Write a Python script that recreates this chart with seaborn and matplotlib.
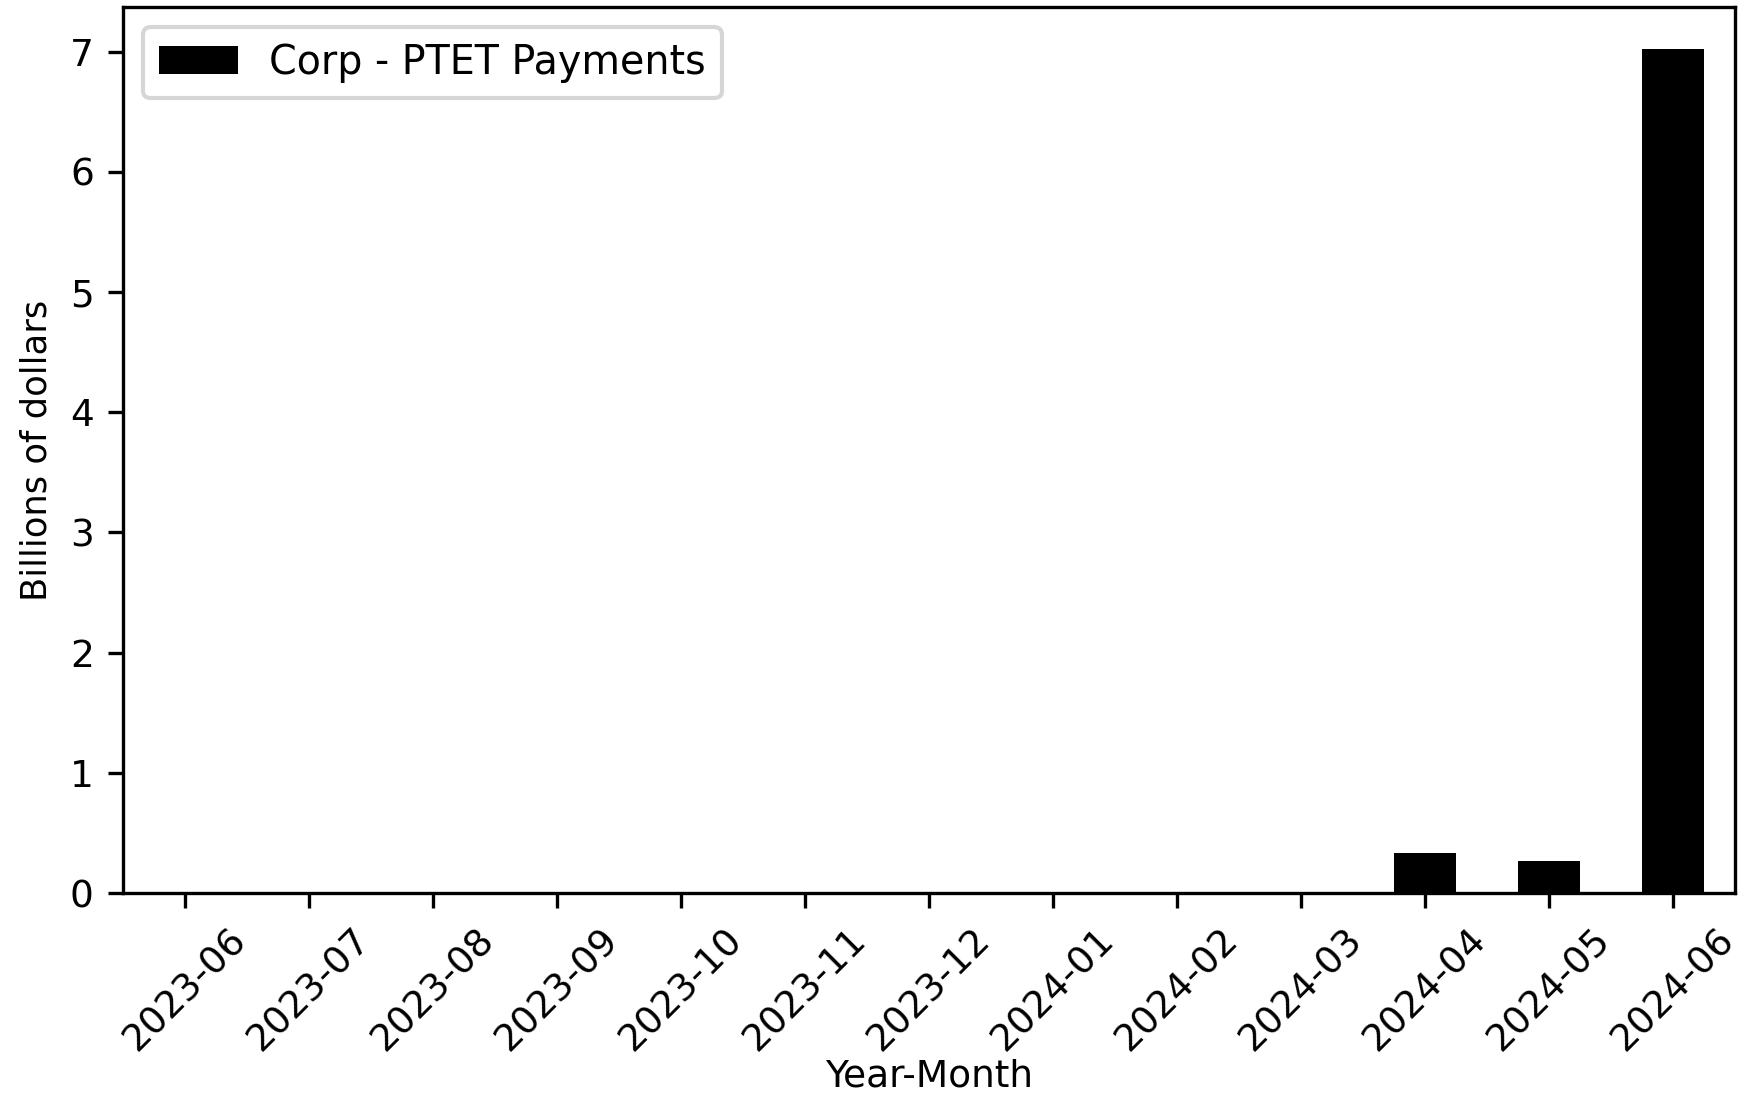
import matplotlib
matplotlib.use("Agg")
import matplotlib.pyplot as plt
import pandas as pd
import seaborn as sns

# Monthly PTET payments, billions of dollars
MONTHS = [
    "2023-06", "2023-07", "2023-08", "2023-09", "2023-10", "2023-11", "2023-12",
    "2024-01", "2024-02", "2024-03", "2024-04", "2024-05", "2024-06",
]
PAYMENTS = [0, 0, 0, 0, 0, 0, 0, 0, 0, 0, 0.335, 0.27, 7.02]
SERIES_NAME = "Corp - PTET Payments"

df = pd.DataFrame({"month": MONTHS, "value": PAYMENTS, "series": SERIES_NAME})

plt.rcParams["font.family"] = ["DejaVu Sans"]
plt.rcParams["font.size"] = 9

fig, ax = plt.subplots(figsize=(1752 / 300, 1096 / 300), dpi=300)
fig.subplots_adjust(left=0.0702, right=0.9903, bottom=0.1852, top=0.9936)

sns.barplot(
    data=df,
    x="month",
    y="value",
    hue="series",
    palette={SERIES_NAME: "black"},
    width=0.5,
    saturation=1,
    ax=ax,
)

ax.set_xlim(-0.5, len(MONTHS) - 0.5)
ax.set_ylim(0, max(PAYMENTS) * 1.05)
ax.set_xlabel("Year-Month", labelpad=0)
ax.set_ylabel("Billions of dollars", fontsize=8.5)
ax.tick_params(axis="x", rotation=45)
ax.legend(loc="upper left", title=None, fontsize=9.5)

fig.savefig("out.png", dpi=300)
